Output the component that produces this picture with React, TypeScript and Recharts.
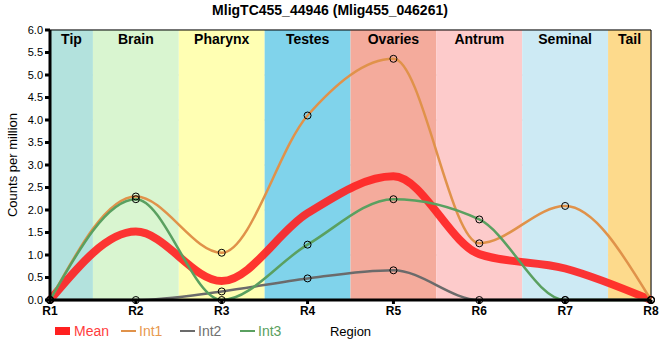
import React from "react";
import {
    ComposedChart,
    Line,
    XAxis,
    YAxis,
    CartesianGrid,
    ReferenceArea,
    ReferenceLine
} from "recharts";

const regions = ["R1", "R2", "R3", "R4", "R5", "R6", "R7", "R8"];
const meanValues = [0, 1.52, 0.42, 1.93, 2.75, 1.02, 0.7, 0];
const int1Values = [0, 2.3, 1.05, 4.1, 5.36, 1.26, 2.09, 0];
const int2Values = [0, 0, 0.19, 0.48, 0.66, 0, 0, 0];
const int3Values = [0, 2.24, 0, 1.23, 2.24, 1.79, 0, 0];
const yTicks = [0, 0.5, 1, 1.5, 2, 2.5, 3, 3.5, 4, 4.5, 5, 5.5, 6];

const bandNames = ["Tip", "Brain", "Pharynx", "Testes", "Ovaries", "Antrum", "Seminal", "Tail"];
const bandColors = ["#b3e2dd", "#d9f5d0", "#ffffb3", "#80d3eb", "#f4ab9c", "#fdcbcb", "#cdeaf4", "#fdda8c"];

const FONT = "Arial, 'Liberation Sans', sans-serif";

const series = [
    { key: "mean", name: "Mean", color: "#ff2020", text: "#ff3c3c", width: 8 },
    { key: "int1", name: "Int1", color: "#e0924a", text: "#e8994f", width: 2.5 },
    { key: "int2", name: "Int2", color: "#6b6b6b", text: "#707070", width: 2.5 },
    { key: "int3", name: "Int3", color: "#5aa060", text: "#5aa060", width: 2.5 }
];
const legendX = [55, 121, 180, 240];

function LegendRow() {
    return (
        <div style={{ position: "absolute", left: 0, top: 322, width: 660, height: 20, fontFamily: FONT, fontSize: 14 }}>
            {series.map((s, i) => (
                <div key={s.key} style={{ position: "absolute", left: legendX[i], top: 0, height: 18, display: "flex", alignItems: "center", color: s.text }}>
                    <div style={{ width: 15, height: s.key === "mean" ? 8 : 2, background: s.color, marginRight: s.key === "mean" ? 4 : 3 }} />
                    <span>{s.name}</span>
                </div>
            ))}
        </div>
    );
}

export default function App() {
    const data = regions.map((r, i) => ({
        x: i + 1,
        mean: meanValues[i],
        int1: int1Values[i],
        int2: int2Values[i],
        int3: int3Values[i]
    }));

    return (
        <div style={{ position: "absolute", left: 0, top: 0, width: 660, height: 360, fontFamily: FONT }}>
            <div style={{ position: "absolute", left: 0, top: 2, width: 660, textAlign: "center", fontSize: 14, fontWeight: "bold" }}>
                MligTC455_44946 (Mlig455_046261)
            </div>
            <ComposedChart width={660} height={360} data={data} margin={{ top: 30, right: 9, bottom: 40, left: 0 }}>
                {bandNames.map((b, i) => (
                    <ReferenceArea
                        key={b}
                        x1={i === 0 ? 1 : i + 0.5}
                        x2={i === 7 ? 8 : i + 1.5}
                        y1={0}
                        y2={6}
                        fill={bandColors[i]}
                        fillOpacity={1}
                        strokeWidth={0}
                        label={{ value: b, position: "insideTop", offset: 4, fill: "#000", fontWeight: "bold", fontSize: 14, fontFamily: FONT }}
                    />
                ))}
                <CartesianGrid stroke="#cccccc" strokeWidth={1} />
                <ReferenceLine y={6} stroke="#000" strokeWidth={1} />
                <ReferenceLine x={8} stroke="#000" strokeWidth={1} />
                <XAxis
                    dataKey="x"
                    type="number"
                    domain={[1, 8]}
                    ticks={[1, 2, 3, 4, 5, 6, 7, 8]}
                    tickFormatter={(v: number) => regions[v - 1]}
                    height={20}
                    tickSize={4}
                    stroke="#000"
                    strokeWidth={3}
                    tick={{ fill: "#000", fontSize: 12, fontWeight: "bold", fontFamily: FONT }}
                    label={{ value: "Region", position: "bottom", offset: 7, fill: "#000", fontSize: 13, fontFamily: FONT }}
                />
                <YAxis
                    domain={[0, 6]}
                    ticks={yTicks}
                    width={50}
                    tickSize={5}
                    stroke="#000"
                    strokeWidth={3}
                    tickFormatter={(v: number) => v.toFixed(1)}
                    tick={{ fill: "#000", fontSize: 11, fontFamily: FONT }}
                    label={{ value: "Counts per million", angle: -90, position: "insideLeft", offset: 12, fill: "#000", fontSize: 13, fontFamily: FONT, style: { textAnchor: "middle" } }}
                />
                {series.map(s => (
                    <Line
                        key={s.key}
                        type="monotone"
                        dataKey={s.key}
                        name={s.name}
                        stroke={s.color}
                        strokeWidth={s.width}
                        strokeOpacity={s.key === "mean" ? 0.9 : 1}
                        dot={s.key === "mean" ? false : { r: 3.5, stroke: "#000", strokeWidth: 1, fill: "none" }}
                        isAnimationActive={false}
                    />
                ))}
            </ComposedChart>
            <LegendRow />
        </div>
    );
}
